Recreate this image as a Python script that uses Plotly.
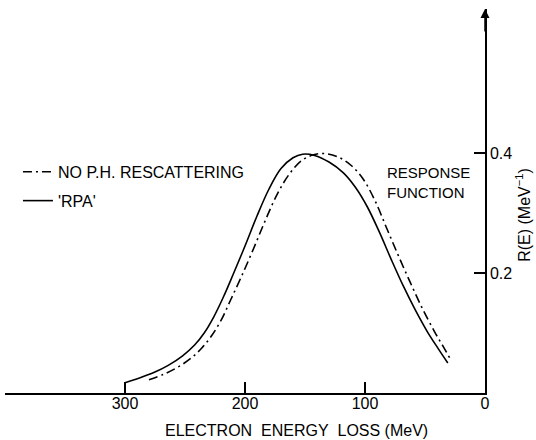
import plotly.graph_objects as go

# Energy loss (MeV) and response function R(E) (MeV^-1)
rpa_E = [300, 288, 276, 264, 252, 242, 234, 226, 218, 210, 200, 190, 180, 170, 160, 152, 142, 130,
         118, 108, 98, 88, 78, 68, 58, 48, 39, 31]
rpa_R = [0.017, 0.025, 0.034, 0.046, 0.062, 0.080, 0.100, 0.127, 0.160, 0.197, 0.245, 0.295, 0.340,
         0.374, 0.392, 0.398, 0.396, 0.385, 0.367, 0.343, 0.310, 0.268, 0.222, 0.178, 0.138, 0.102,
         0.074, 0.050]

noph_E = [280, 268, 256, 245, 236, 228, 220, 212, 203, 193, 183, 173, 163, 153, 143, 133, 122, 112,
          102, 92, 82, 72, 62, 52, 42, 35, 29]
noph_R = [0.022, 0.031, 0.043, 0.058, 0.075, 0.095, 0.121, 0.155, 0.194, 0.240, 0.288, 0.332, 0.365,
          0.387, 0.397, 0.399, 0.393, 0.380, 0.358, 0.322, 0.275, 0.228, 0.183, 0.140, 0.102, 0.078,
          0.057]

x_ticks = [300, 200, 100, 0]
y_ticks = [0.2, 0.4]

FONT = "Liberation Sans"

fig = go.Figure()
fig.add_trace(go.Scatter(
    x=noph_E, y=noph_R, mode="lines", name="NO P.H. RESCATTERING",
    line=dict(color="black", width=1.6, dash="9px,4px,2px,4px", shape="spline", smoothing=1.0),
    legendgroup="a",
))
fig.add_trace(go.Scatter(
    x=rpa_E, y=rpa_R, mode="lines", name="'RPA'",
    line=dict(color="black", width=1.6, shape="spline", smoothing=1.0),
    legendgroup="b",
))

fig.update_layout(
    width=536, height=440,
    margin=dict(l=5, r=51, t=9, b=47),
    paper_bgcolor="white", plot_bgcolor="white",
    font=dict(family=FONT, size=15, color="black"),
    showlegend=True,
    legend=dict(x=0.027, y=0.62, xanchor="left", yanchor="top",
                bgcolor="rgba(0,0,0,0)", font=dict(size=16, family=FONT),
                tracegroupgap=5, itemwidth=30),
    xaxis=dict(range=[400, 0], showgrid=False, zeroline=False,
               showline=True, linecolor="black", linewidth=1.5,
               ticks="inside", ticklen=11, tickwidth=1.5, tickcolor="black",
               tickvals=x_ticks, ticktext=[str(v) for v in x_ticks],
               tickfont=dict(size=16, family=FONT), ticklabelstandoff=-5),
    yaxis=dict(range=[0, 0.64], side="right", showgrid=False, zeroline=False,
               showline=True, linecolor="black", linewidth=1.5,
               ticks="inside", ticklen=11, tickwidth=1.5, tickcolor="black",
               tickvals=y_ticks, ticktext=["0.2", "0.4"],
               tickfont=dict(size=16, family=FONT)),
)

fig.add_annotation(x=0, y=0.64, ax=0, ay=0.60, xref="x", yref="y", axref="x", ayref="y",
                   showarrow=True, arrowhead=2, arrowsize=1.2, arrowwidth=1.5, arrowcolor="black", text="")

fig.add_annotation(x=0.608, y=-0.097, xref="paper", yref="paper", showarrow=False,
                   text="ELECTRON\u00a0\u00a0ENERGY\u00a0\u00a0LOSS (MeV)",
                   font=dict(size=16, family=FONT), xanchor="center", yanchor="middle")

fig.add_annotation(x=1.08, y=0.465, xref="paper", yref="paper", showarrow=False,
                   text="R(E) (MeV<sup>\u22121</sup>)", textangle=-90,
                   font=dict(size=16, family=FONT), xanchor="center", yanchor="middle")

fig.add_annotation(x=0.882, y=0.548, xref="paper", yref="paper", showarrow=False,
                   text="RESPONSE<br>FUNCTION", align="left",
                   font=dict(size=15, family=FONT), xanchor="center", yanchor="middle")

fig.write_html("out.html")
